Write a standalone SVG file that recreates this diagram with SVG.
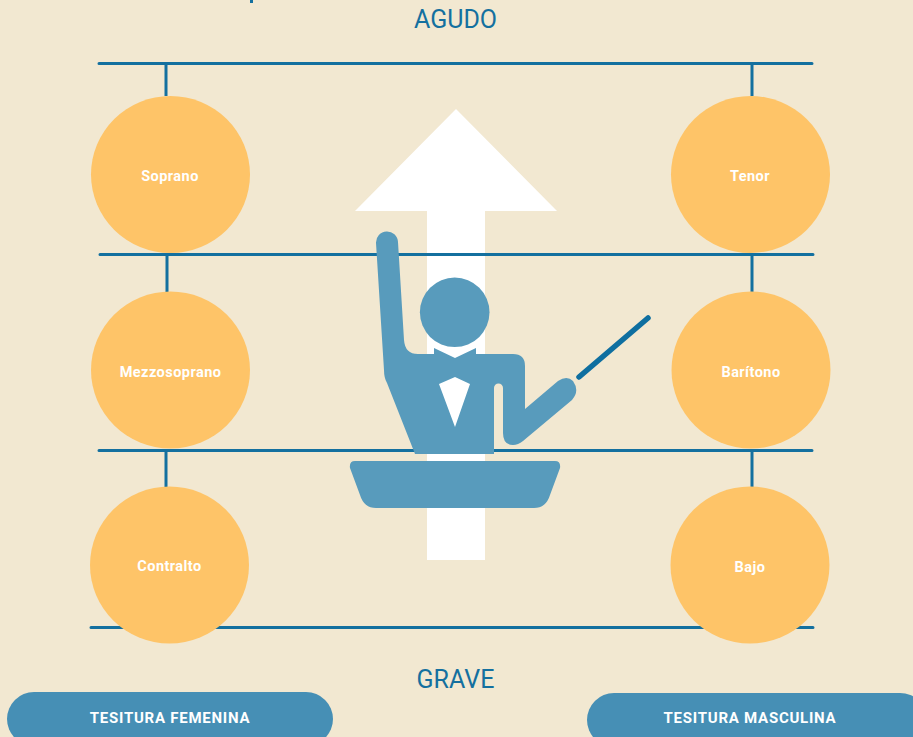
<svg xmlns="http://www.w3.org/2000/svg" width="913" height="737" viewBox="0 0 913 737">
<style>
.ln{stroke:#14709f;stroke-width:3;fill:none;stroke-linecap:round}
.c{fill:#fec468}
.t{font-family:"Roboto","Liberation Sans",sans-serif;font-weight:700;font-size:14.500px;fill:#fff;text-anchor:middle;letter-spacing:.45px}
.b{font-size:15px;letter-spacing:.75px}
.h{font-family:"Roboto","Liberation Sans",sans-serif;font-size:25px;fill:#14709f;text-anchor:middle}
.p{fill:#468fb5}
.f{fill:#589bbc}
</style>
<rect width="913" height="737" fill="#f2e8d1"/>
<rect x="250" y="0" width="3" height="3" fill="#14709f"/>
<path id="arrow" d="M456 109L557 211H485V560H427V211H355Z" fill="#fff"/>
<g id="connectors">
<path class="ln" d="M99 63.500H812M100 254.500H813M99 450.500H812M91 627.500H813"/>
<path class="ln" d="M166 64V96M752 64V96M167 255V292M752 255V292M166 451V487M752 451V487" style="stroke-linecap:butt"/>
</g>
<g id="soprano"><ellipse class="c" cx="170.500" cy="174.500" rx="79.500" ry="78.500"/><text class="t" x="170" y="180.500">Soprano</text></g>
<g id="tenor"><ellipse class="c" cx="750.500" cy="174.500" rx="79.500" ry="78.500"/><text class="t" x="750" y="180.500">Tenor</text></g>
<g id="mezzosoprano"><ellipse class="c" cx="170.500" cy="370" rx="79.500" ry="78.500"/><text class="t" x="170.500" y="376.500">Mezzosoprano</text></g>
<g id="baritono"><ellipse class="c" cx="751" cy="370" rx="79.500" ry="78.500"/><text class="t" x="751" y="376.500">Barítono</text></g>
<g id="contralto"><ellipse class="c" cx="169.500" cy="565" rx="79.500" ry="78.500"/><text class="t" x="169.500" y="570.500">Contralto</text></g>
<g id="bajo"><ellipse class="c" cx="750" cy="565" rx="79.500" ry="78.500"/><text class="t" x="750" y="571.500">Bajo</text></g>
<g id="conductor">
<path class="f" fill-rule="evenodd" d="M376 243A11 11 0 0 1 398 242L404 340Q405 354 418 354H434V348L455 358L476 348V354H513Q525 354 525 366V409L558 381Q567 375 573 381Q580 391 572 400L523 441Q518 445 513 445Q503 445 503 433V388A4.500 4.500 0 0 0 494 388V454H415L387 383Q384 378 384 370ZM455 377L439 384L455 427L470 384Z"/>
<circle class="f" cx="454.700" cy="312.300" r="34.800"/>
<path d="M579 377L648 318" stroke="#0f6fa0" stroke-width="5.500" stroke-linecap="round" fill="none"/>
<path class="f" d="M355 461H555Q561 461 560 468L550 495Q546 508 534 508H376Q364 508 360 495L350 468Q349 461 355 461Z"/>
</g>
<text class="h" x="455.500" y="28">AGUDO</text>
<text class="h" x="455.500" y="688">GRAVE</text>
<g id="femenina"><rect class="p" x="7" y="692" width="326" height="54" rx="27"/><text class="t b" x="170" y="723">TESITURA FEMENINA</text></g>
<g id="masculina"><rect class="p" x="587" y="693" width="340" height="54" rx="27"/><text class="t b" x="750" y="723">TESITURA MASCULINA</text></g>
</svg>
